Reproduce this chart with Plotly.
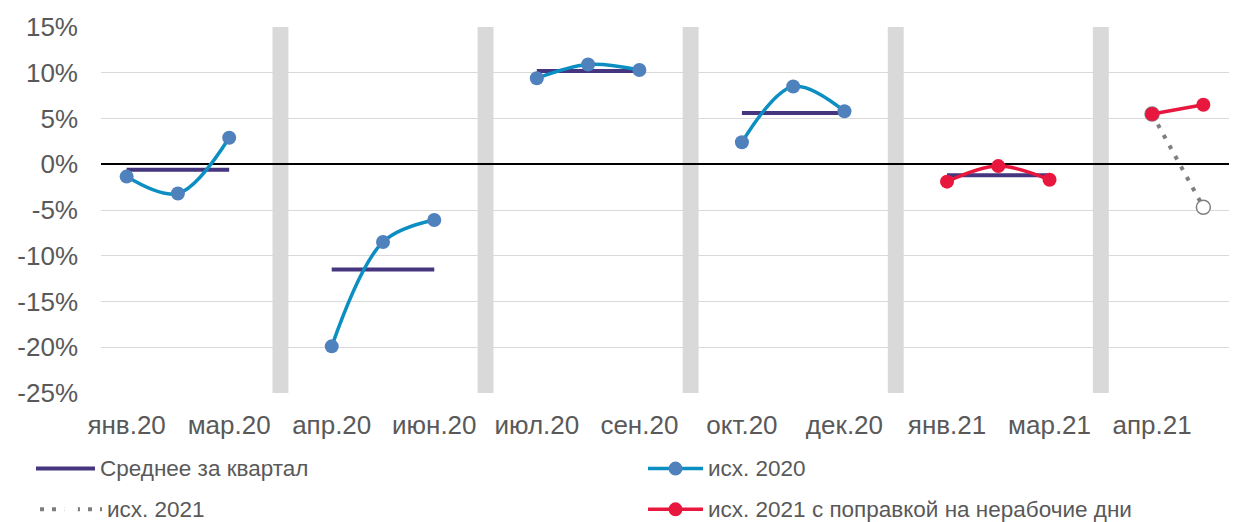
import plotly.graph_objects as go

# Monthly axis; empty entries are the gaps between quarters
months = ["янв.20", "фев.20", "мар.20", "",
          "апр.20", "май.20", "июн.20", "",
          "июл.20", "авг.20", "сен.20", "",
          "окт.20", "ноя.20", "дек.20", "",
          "янв.21", "фев.21", "мар.21", "",
          "апр.21", "май.21"]
N = None

# Quarterly average (repeated across the months of each quarter)
quarter_avg = [-0.6, -0.6, -0.6, N,
               -11.5, -11.5, -11.5, N,
               10.2, 10.2, 10.2, N,
               5.6, 5.6, 5.6, N,
               -1.2, -1.2, -1.2, N,
               N, N]

# Raw series, 2020
raw_2020 = [-1.35, -3.2, 2.9, N,
            -19.9, -8.5, -6.1, N,
            9.4, 10.9, 10.3, N,
            2.4, 8.5, 5.8, N,
            N, N, N, N,
            N, N]

# Raw series, 2021
raw_2021 = [N] * 20 + [5.5, -4.7]

# 2021 adjusted for non-working days
adj_2021 = [N] * 16 + [-1.9, -0.2, -1.7, N, 5.5, 6.5]

separators = [i for i, m in enumerate(months) if m == ""]

y_ticks = [-25, -20, -15, -10, -5, 0, 5, 10, 15]
y_text = [f"{v}%" for v in y_ticks]

x_idx = list(range(len(months)))
x_ticks = x_idx[::2]
x_text = [months[i] for i in x_ticks]

FONT = "Liberation Sans, Arial, sans-serif"
GREY_TXT = "#595959"
PURPLE = "#46357f"
BLUE = "#0b8ec1"
BLUE_MK = "#4f81bd"
RED = "#e8173e"
GREY = "#7f7f7f"

W, H = 1252, 522
ML, MR, MT, MB = 101, 23, 25, 129
PW, PH = W - ML - MR, H - MT - MB

fig = go.Figure()

fig.add_trace(go.Scatter(
    x=x_idx, y=quarter_avg, mode="lines", name="Среднее за квартал",
    line=dict(color=PURPLE, width=4), connectgaps=False))

fig.add_trace(go.Scatter(
    x=x_idx, y=raw_2020, mode="lines+markers", name="исх. 2020",
    line=dict(color=BLUE, width=3.5, shape="spline", smoothing=1),
    marker=dict(color=BLUE_MK, size=14), connectgaps=False))

fig.add_trace(go.Scatter(
    x=x_idx, y=raw_2021, mode="lines+markers", name="исх. 2021",
    line=dict(color=GREY, width=4, dash="4px,8px"),
    marker=dict(color="white", size=14, line=dict(color=GREY, width=1.5)),
    connectgaps=False))

fig.add_trace(go.Scatter(
    x=x_idx, y=adj_2021, mode="lines+markers",
    name="исх. 2021 с поправкой на нерабочие дни",
    line=dict(color=RED, width=3.5, shape="spline", smoothing=1),
    marker=dict(color=RED, size=14), connectgaps=False))

# Grey bands between quarters
for s in separators:
    fig.add_shape(type="rect", xref="x", yref="y",
                  x0=s - 0.155, x1=s + 0.155, y0=y_ticks[0], y1=y_ticks[-1],
                  fillcolor="#d9d9d9", line_width=0, layer="below")


# Hand-drawn legend (pixel positions converted to paper coordinates)
def px(xp):
    return (xp - ML) / PW


def py(yp):
    return (H - MB - yp) / PH


legend_items = [
    ("Среднее за квартал", 36, 95, 469, PURPLE, 4, "solid", None),
    ("исх. 2020", 648, 703, 469, BLUE, 3.5, "solid", BLUE_MK),
    ("исх. 2021", 40, 102, 510, GREY, 4, "dot", "white"),
    ("исх. 2021 с поправкой на нерабочие дни", 648, 703, 510, RED, 3.5, "solid", RED),
]
for label, x0, x1, yy, col, w, dash, mk in legend_items:
    fig.add_shape(type="line", xref="paper", yref="paper",
                  x0=px(x0), x1=px(x1), y0=py(yy), y1=py(yy),
                  line=dict(color=col, width=w, dash="4px,8px" if dash == "dot" else "solid"))
    if mk:
        cx = (x0 + x1) / 2
        fig.add_shape(type="circle", xref="paper", yref="paper",
                      xsizemode="pixel", ysizemode="pixel",
                      xanchor=px(cx), yanchor=py(yy),
                      x0=-7, x1=7, y0=-7, y1=7,
                      fillcolor=mk, line_width=0)
    fig.add_annotation(text=label, xref="paper", yref="paper",
                       x=px(x1 + 3), y=py(yy), xanchor="left", yanchor="middle",
                       showarrow=False, font=dict(family=FONT, size=22.5, color=GREY_TXT))

TICK_FONT = dict(family=FONT, size=26, color=GREY_TXT)

fig.update_layout(
    width=W, height=H,
    margin=dict(l=ML, r=MR, t=MT, b=MB),
    paper_bgcolor="white", plot_bgcolor="white",
    showlegend=False,
    font=dict(family=FONT, size=22, color=GREY_TXT),
    xaxis=dict(range=[-0.5, len(months) - 0.5], tickvals=x_ticks, ticktext=x_text,
               showgrid=False, zeroline=False, showline=False, ticks="",
               tickfont=TICK_FONT, ticklabelstandoff=14),
    yaxis=dict(range=[y_ticks[0], y_ticks[-1]], tickvals=y_ticks, ticktext=y_text,
               showgrid=True, gridcolor="#d9d9d9", gridwidth=1.3,
               zeroline=True, zerolinecolor="black", zerolinewidth=1.5,
               showline=False, ticks="",
               tickfont=TICK_FONT, ticklabelstandoff=22),
)

fig.write_html("out.html")
